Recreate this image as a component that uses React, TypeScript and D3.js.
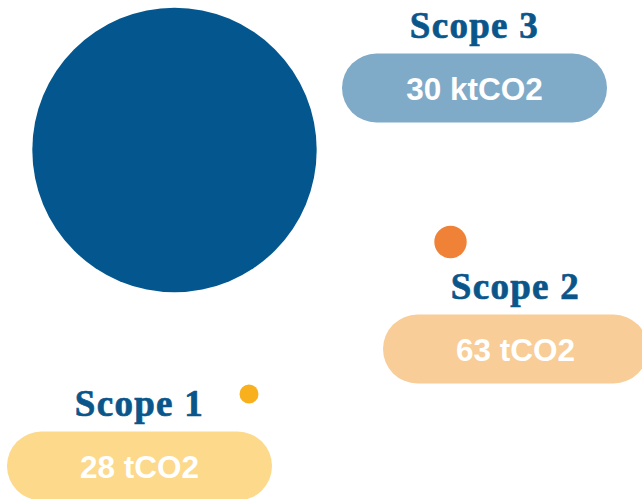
import React from "react";
import * as d3 from "d3";

// ---- data ----
const scopes = ["Scope 3", "Scope 2", "Scope 1"];
const emissionsT = [30000, 63, 28]; // tonnes CO2
const valueLabels = ["30 ktCO2", "63 tCO2", "28 tCO2"];

// ---- styles ----
const circleColors = ["#03578e", "#ef8237", "#f8b01c"];
const pillColors = ["#80abc8", "#f8cd97", "#fcd98b"];
const titleColor = "#0a568b";

// ---- layout (positions of each group) ----
const circleCenters: [number, number][] = [
  [174.5, 150],
  [450.5, 242],
  [249, 394],
];
const pillCenters: [number, number][] = [
  [474.5, 88],
  [515.5, 349],
  [139.5, 466],
];
const pillW = 265;
const pillH = 69;

const W = 642;
const H = 499;

export default function App() {
  // stylised size scale (infographic, not strictly area-proportional)
  const r = d3
    .scaleLinear()
    .domain([28, 63, 30000])
    .range([9.5, 16.2, 142.2]);

  return (
    <svg
      width={W}
      height={H}
      style={{ position: "absolute", left: 0, top: 0, display: "block" }}
    >
      <rect width={W} height={H} fill="#ffffff" />
      {scopes.map((s, i) => {
        const [cx, cy] = circleCenters[i];
        const [px, py] = pillCenters[i];
        return (
          <g key={s}>
            <circle cx={cx} cy={cy} r={r(emissionsT[i])} fill={circleColors[i]} />
            <rect
              x={px - pillW / 2}
              y={py - pillH / 2}
              width={pillW}
              height={pillH}
              rx={pillH / 2}
              ry={pillH / 2}
              fill={pillColors[i]}
            />
            <text
              x={px}
              y={py + 11.5}
              textAnchor="middle"
              fill="#ffffff"
              fontFamily="'Liberation Sans', Arial, sans-serif"
              fontWeight="bold"
              fontSize={31.5}
            >
              {valueLabels[i]}
            </text>
            <text
              x={px}
              y={py - pillH / 2 - 15.5}
              textAnchor="middle"
              fill={titleColor}
              stroke={titleColor}
              strokeWidth={0.7}
              fontFamily="'Liberation Serif', 'Times New Roman', serif"
              fontWeight="bold"
              fontSize={37}
              letterSpacing={1.3}
            >
              {s}
            </text>
          </g>
        );
      })}
    </svg>
  );
}
